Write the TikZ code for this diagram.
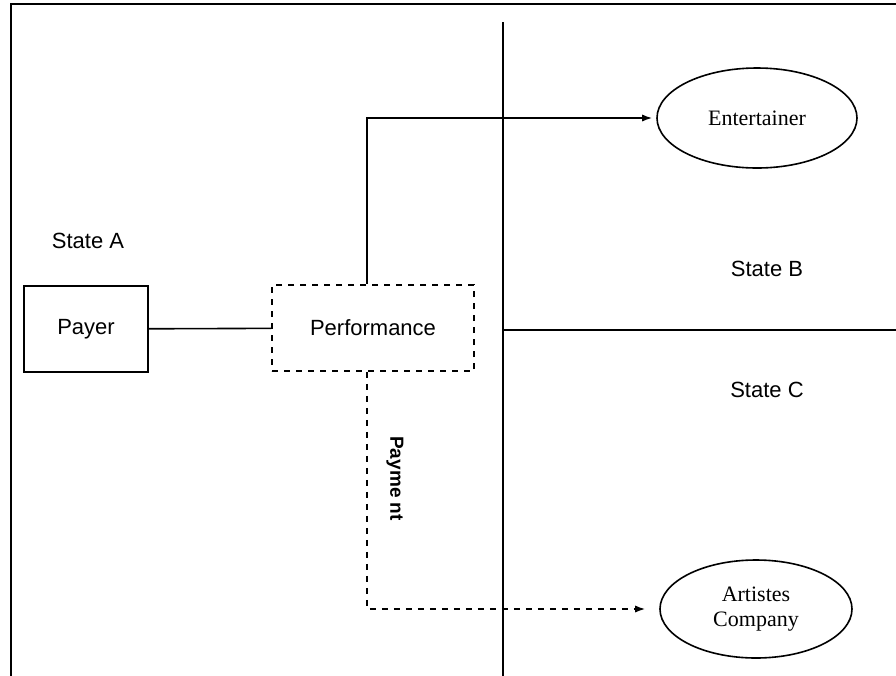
\documentclass[tikz,border=0pt]{standalone}
\usepackage{fontspec}
\setmainfont{Liberation Serif}
\setsansfont{Liberation Sans}
\usetikzlibrary{shapes.geometric,arrows.meta}

\begin{document}
\begin{tikzpicture}[x=0.5pt,y=-0.5pt,>={Latex[length=5pt,width=3.6pt]}]
    \tikzstyle{every node}=[font=\fontsize{11}{13}\sffamily]
    \tikzstyle{box}=[draw,thick,minimum width=62pt,minimum height=43pt]
    \tikzstyle{party}=[draw,thick,ellipse,font=\fontsize{11}{12.5}\rmfamily,align=center]

    \useasboundingbox (0,0) rectangle (896,676);

    % frame
    \draw[line width=1pt] (11,676) |- (896,4);

    % borders between the states
    \coordinate (top) at (503,22);
    \coordinate (bot) at (503,676);
    \coordinate (mid) at (503,330);
    \coordinate (rgt) at (896,330);
    \draw[thick] (top) -- (bot);
    \draw[thick] (mid) -- (rgt);

    \node (stateA) at (88,241) {State A};
    \node (stateB) at (767,269) {State B};
    \node (stateC) at (767,390) {State C};

    \node[box] (payer) at (86,329) {Payer};
    \node[box,dashed,minimum width=101pt] (perf) at (373,328) {Performance};

    \node[party,minimum width=100pt,minimum height=50pt] (ent) at (757,118)
    {Entertainer};
    \node[party,minimum width=96pt,minimum height=49pt] (art) at (756,609)
    {Artistes\\Company};

    \draw[thick] (payer) -- (perf);

    \draw[thick,->,shorten >=2pt] ([xshift=-3pt]perf.north) |- (ent.west);

    \draw[thick,dashed,->,shorten >=7pt] ([xshift=-3pt]perf.south) |- (art.west)
    node[pos=0.225,right=6pt,rotate=-90,anchor=south,
    font=\fontsize{9.5}{11}\sffamily\bfseries] (pay) {Payme nt};
\end{tikzpicture}
\end{document}
